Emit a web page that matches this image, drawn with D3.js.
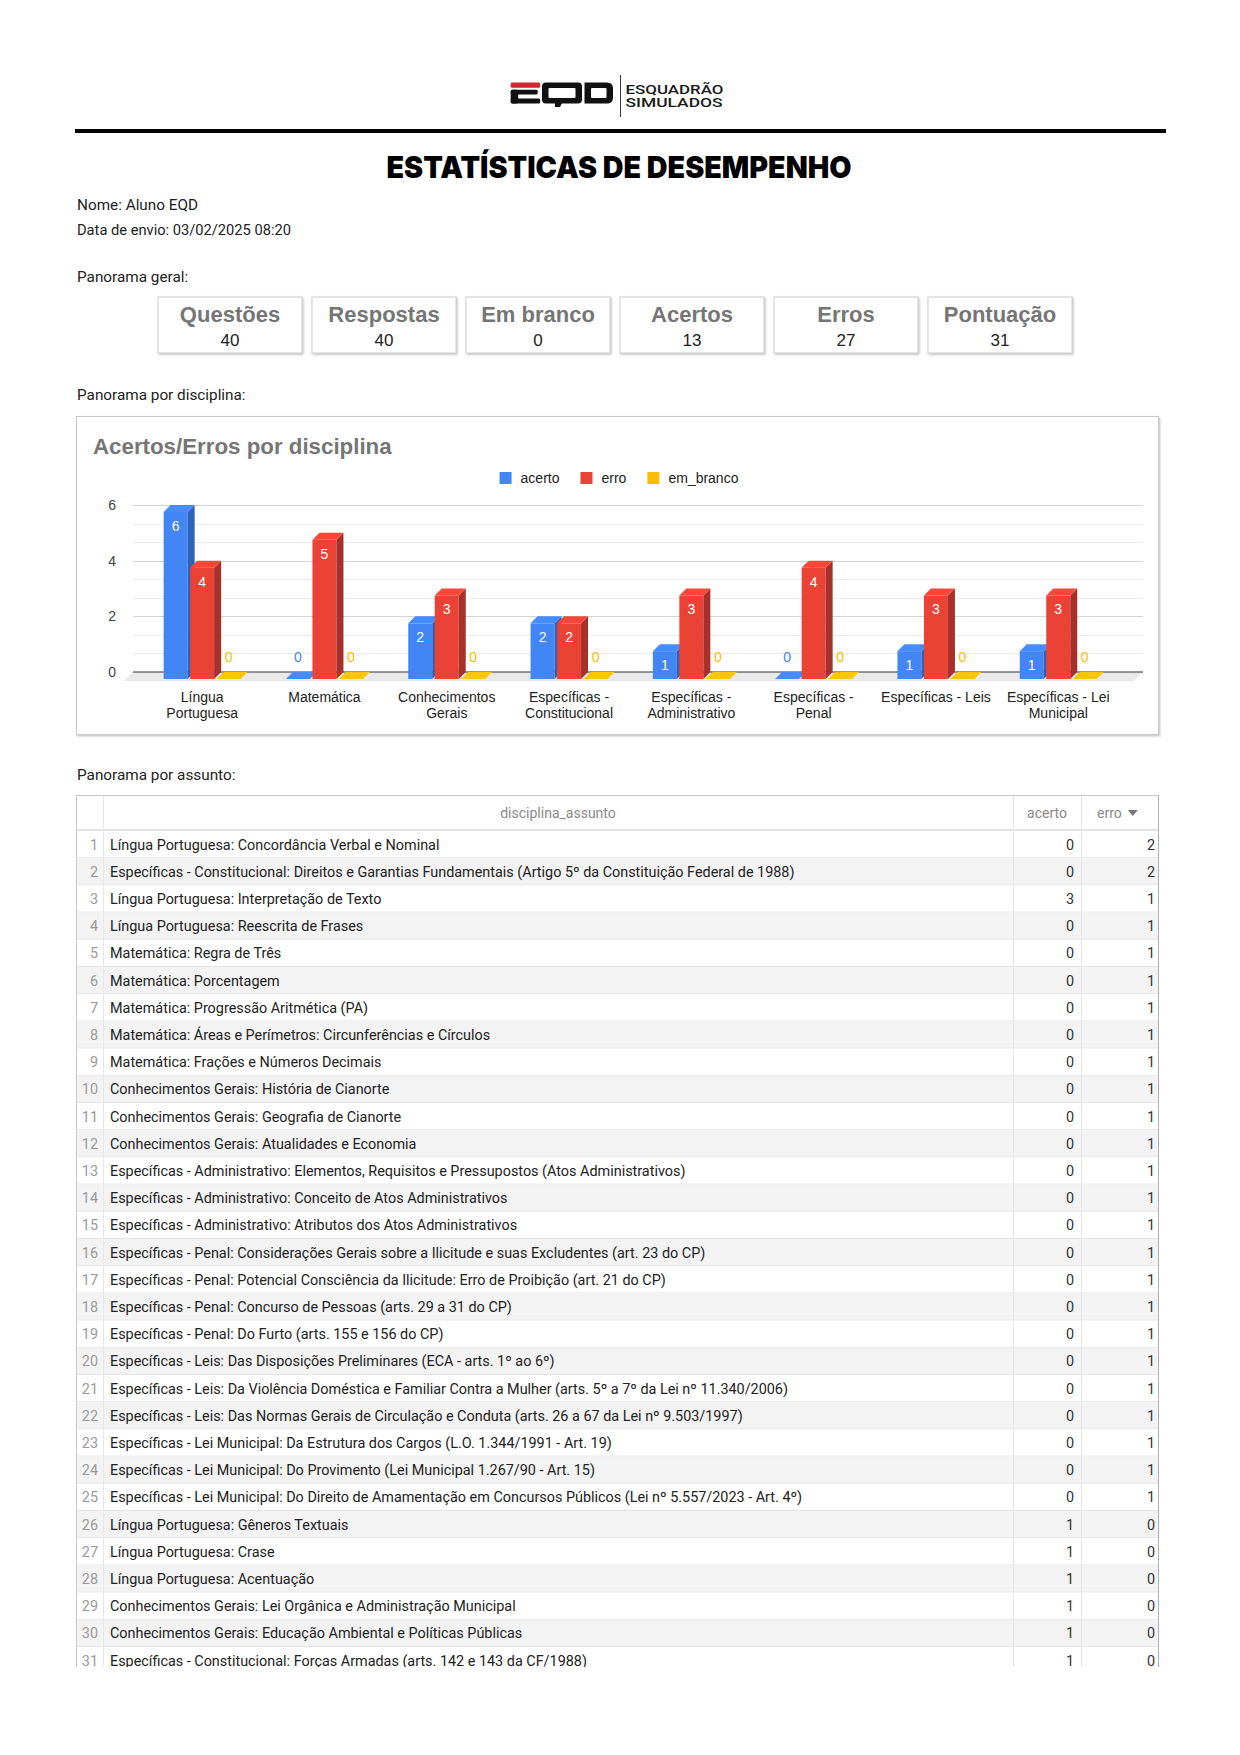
<!DOCTYPE html>
<html><head><meta charset="utf-8">
<script src="https://cdn.jsdelivr.net/npm/d3@7"></script>
<style>body{margin:0;background:#fff}svg{display:block}</style>
</head><body>
<svg id="page" width="1240" height="1755"></svg>
<script>
// ---------- DATA ----------
const categories = ["Língua Portuguesa","Matemática","Conhecimentos Gerais","Específicas - Constitucional","Específicas - Administrativo","Específicas - Penal","Específicas - Leis","Específicas - Lei Municipal"];
const tickLines = [["Língua","Portuguesa"],["Matemática"],["Conhecimentos","Gerais"],["Específicas -","Constitucional"],["Específicas -","Administrativo"],["Específicas -","Penal"],["Específicas - Leis"],["Específicas - Lei","Municipal"]];
const seriesNames = ["acerto","erro","em_branco"];
const acerto = [6,0,2,2,1,0,1,1];
const erro = [4,5,3,2,3,4,3,3];
const emBranco = [0,0,0,0,0,0,0,0];
const yTicks = [0,2,4,6];
const statLabels = ["Questões","Respostas","Em branco","Acertos","Erros","Pontuação"];
const statValues = [40,40,0,13,27,31];
const topicNames = [
 "Língua Portuguesa: Concordância Verbal e Nominal",
 "Específicas - Constitucional: Direitos e Garantias Fundamentais (Artigo 5º da Constituição Federal de 1988)",
 "Língua Portuguesa: Interpretação de Texto",
 "Língua Portuguesa: Reescrita de Frases",
 "Matemática: Regra de Três",
 "Matemática: Porcentagem",
 "Matemática: Progressão Aritmética (PA)",
 "Matemática: Áreas e Perímetros: Circunferências e Círculos",
 "Matemática: Frações e Números Decimais",
 "Conhecimentos Gerais: História de Cianorte",
 "Conhecimentos Gerais: Geografia de Cianorte",
 "Conhecimentos Gerais: Atualidades e Economia",
 "Específicas - Administrativo: Elementos, Requisitos e Pressupostos (Atos Administrativos)",
 "Específicas - Administrativo: Conceito de Atos Administrativos",
 "Específicas - Administrativo: Atributos dos Atos Administrativos",
 "Específicas - Penal: Considerações Gerais sobre a Ilicitude e suas Excludentes (art. 23 do CP)",
 "Específicas - Penal: Potencial Consciência da Ilicitude: Erro de Proibição (art. 21 do CP)",
 "Específicas - Penal: Concurso de Pessoas (arts. 29 a 31 do CP)",
 "Específicas - Penal: Do Furto (arts. 155 e 156 do CP)",
 "Específicas - Leis: Das Disposições Preliminares (ECA - arts. 1º ao 6º)",
 "Específicas - Leis: Da Violência Doméstica e Familiar Contra a Mulher (arts. 5º a 7º da Lei nº 11.340/2006)",
 "Específicas - Leis: Das Normas Gerais de Circulação e Conduta (arts. 26 a 67 da Lei nº 9.503/1997)",
 "Específicas - Lei Municipal: Da Estrutura dos Cargos (L.O. 1.344/1991 - Art. 19)",
 "Específicas - Lei Municipal: Do Provimento (Lei Municipal 1.267/90 - Art. 15)",
 "Específicas - Lei Municipal: Do Direito de Amamentação em Concursos Públicos (Lei nº 5.557/2023 - Art. 4º)",
 "Língua Portuguesa: Gêneros Textuais",
 "Língua Portuguesa: Crase",
 "Língua Portuguesa: Acentuação",
 "Conhecimentos Gerais: Lei Orgânica e Administração Municipal",
 "Conhecimentos Gerais: Educação Ambiental e Políticas Públicas",
 "Específicas - Constitucional: Forças Armadas (arts. 142 e 143 da CF/1988)"
];
const topicAcerto = [0,0,3,0,0,0,0,0,0,0,0,0,0,0,0,0,0,0,0,0,0,0,0,0,0,1,1,1,1,1,1];
const topicErro   = [2,2,1,1,1,1,1,1,1,1,1,1,1,1,1,1,1,1,1,1,1,1,1,1,1,0,0,0,0,0,0];

// ---------- PAGE ----------
const svg = d3.select("#page");
svg.append("rect").attr("width",1240).attr("height",1755).attr("fill","#fff");
const defs = svg.append("defs");
const sh = defs.append("filter").attr("id","sh").attr("x","-5%").attr("y","-5%").attr("width","110%").attr("height","120%");
sh.append("feDropShadow").attr("dx",1).attr("dy",1.2).attr("stdDeviation",0.8).attr("flood-color","#888").attr("flood-opacity",0.55);

// Logo
const logo = svg.append("g");
logo.append("rect").attr("x",510.7).attr("y",82.5).attr("width",29.5).attr("height",5.3).attr("rx",1.5).attr("fill","#d3262b");
logo.append("rect").attr("x",510.7).attr("y",89.8).attr("width",27).attr("height",4.7).attr("rx",1.5).attr("fill","#111");
logo.append("rect").attr("x",510.7).attr("y",89.8).attr("width",7.5).attr("height",13.7).attr("rx",2).attr("fill","#111");
logo.append("rect").attr("x",510.7).attr("y",98.5).attr("width",29.5).attr("height",5).attr("rx",1.5).attr("fill","#111");
logo.append("rect").attr("x",542).attr("y",82.5).attr("width",40).attr("height",21).attr("rx",4).attr("fill","#111");
logo.append("rect").attr("x",548.5).attr("y",88).attr("width",27).attr("height",10).attr("rx",1).attr("fill","#fff");
logo.append("path").attr("d","M555,101 H563 L560,107 H555 Z").attr("fill","#111");
logo.append("path").attr("d","M584.5,82.5 H607 Q613,82.5 613,88.5 V97.5 Q613,103.5 607,103.5 H584.5 Z").attr("fill","#111");
logo.append("rect").attr("x",591).attr("y",88).attr("width",15.5).attr("height",10).attr("rx",1).attr("fill","#fff");
logo.append("line").attr("x1",620.5).attr("x2",620.5).attr("y1",75).attr("y2",117).attr("stroke","#333").attr("stroke-width",1);
const lt = logo.append("text").attr("font-family","Roboto").attr("font-weight",500).attr("font-size",13.5).attr("fill","#1a1a1a");
lt.append("tspan").attr("x",625.5).attr("y",93.5).attr("textLength",98).attr("lengthAdjust","spacingAndGlyphs").text("ESQUADRÃO");
lt.append("tspan").attr("x",625.5).attr("y",107.3).attr("textLength",97).attr("lengthAdjust","spacingAndGlyphs").text("SIMULADOS");

// rule
svg.append("rect").attr("x",75).attr("y",129).attr("width",1091).attr("height",4).attr("fill","#000");

// title
svg.append("text").attr("x",619).attr("y",178).attr("text-anchor","middle").attr("font-family","Inter").attr("font-weight",900)
  .attr("font-size",30).attr("textLength",465).attr("lengthAdjust","spacingAndGlyphs").attr("fill","#000").text("ESTATÍSTICAS DE DESEMPENHO");

const bodyText = (x,y,t)=>svg.append("text").attr("x",x).attr("y",y).attr("font-family","Roboto").attr("font-size",15.3).attr("fill","#222").text(t);
bodyText(77,210,"Nome: Aluno EQD");
bodyText(77,234.5,"Data de envio: 03/02/2025 08:20").attr("textLength",214).attr("lengthAdjust","spacingAndGlyphs");
bodyText(77,281.5,"Panorama geral:");
bodyText(77,400,"Panorama por disciplina:");
bodyText(77,779.5,"Panorama por assunto:");

// stat boxes
const boxX = d3.scaleBand().domain(statLabels).range([158,1072]).paddingInner(10/154);
const boxes = svg.selectAll("g.stat").data(statLabels).join("g").attr("class","stat")
  .attr("transform",d=>`translate(${boxX(d)},297)`);
boxes.append("rect").attr("width",boxX.bandwidth()).attr("height",56).attr("fill","#fff").attr("stroke","#cfcfcf").attr("filter","url(#sh)");
boxes.append("text").attr("x",boxX.bandwidth()/2).attr("y",25).attr("text-anchor","middle").attr("font-family","Liberation Sans, Arial")
  .attr("font-weight",700).attr("font-size",22).attr("fill","#757575").text(d=>d);
boxes.append("text").attr("x",boxX.bandwidth()/2).attr("y",48.5).attr("text-anchor","middle").attr("font-family","Liberation Sans, Arial")
  .attr("font-size",17).attr("fill","#222").text((d,i)=>statValues[i]);

// ---------- CHART ----------
svg.append("rect").attr("x",76.5).attr("y",416.5).attr("width",1082).attr("height",318).attr("fill","#fff").attr("stroke","#c8c8c8").attr("filter","url(#sh)");
svg.append("text").attr("x",93).attr("y",454).attr("font-family","Liberation Sans, Arial").attr("font-weight",700).attr("font-size",22.3)
  .attr("fill","#757575").text("Acertos/Erros por disciplina");

const colors = ["#4285f4","#ea4335","#fbbc04"];
const sideColors = ["#2f62b8","#a8302a","#b58a04"];
const series = [acerto, erro, emBranco];
const fs = 14;

// legend
const leg = svg.append("g");
let lx = 0;
seriesNames.forEach((s,i)=>{
  const g = leg.append("g").attr("transform",`translate(${lx},0)`);
  g.append("rect").attr("x",0).attr("y",-6).attr("width",12).attr("height",12).attr("fill",colors[i]);
  const t = g.append("text").attr("x",21).attr("y",0).attr("dy","0.35em").attr("font-family","Liberation Sans, Arial").attr("font-size",fs).attr("fill","#222").text(s);
  lx += 21 + t.node().getComputedTextLength() + 21;
});
const legW = lx - 21;
leg.attr("transform",`translate(${619 - legW/2},478)`);

const x = d3.scaleBand().domain(categories).range([141,1119.4]);
const y = d3.scaleLinear().domain([0,6]).range([672,505]);
const px0 = 133, px1 = 1143, D = 7, bw = 24;
const offsets = d3.scaleLinear().domain([0,2]).range([-26.5,26.5]);

// floor
svg.append("path").attr("d",`M${px0},${y(0)} H${px1} L${px1-9},${y(0)+9} H${px0-9} Z`).attr("fill","#e9e9e9");
// grid
const minor = d3.range(0,6.01,2/3).filter(v=>Math.abs(v/2-Math.round(v/2))>0.01);
svg.append("g").selectAll("line").data(minor).join("line").attr("x1",px0).attr("x2",px1)
  .attr("y1",d=>Math.round(y(d))+0.5).attr("y2",d=>Math.round(y(d))+0.5).attr("stroke","#ececec");
svg.append("g").selectAll("line").data(yTicks.filter(v=>v>0)).join("line").attr("x1",px0).attr("x2",px1)
  .attr("y1",d=>Math.round(y(d))+0.5).attr("y2",d=>Math.round(y(d))+0.5).attr("stroke","#d2d2d2");
svg.append("line").attr("x1",px0).attr("x2",px1).attr("y1",y(0)).attr("y2",y(0)).attr("stroke","#333").attr("stroke-width",1.2);

// y axis
const yAxis = svg.append("g").attr("transform",`translate(${px0},0)`)
  .call(d3.axisLeft(y).tickValues(yTicks).tickSize(0).tickPadding(17).tickFormat(d3.format("d")));
yAxis.select(".domain").remove();
yAxis.selectAll("text").attr("font-family","Liberation Sans, Arial").attr("font-size",fs).attr("fill","#444");

// x axis
const xAxis = svg.append("g").attr("transform",`translate(0,${y(0)})`)
  .call(d3.axisBottom(x).tickSize(0).tickFormat(""));
xAxis.select(".domain").remove();
xAxis.selectAll(".tick").each(function(d,i){
  const t = d3.select(this).append("text").attr("text-anchor","middle").attr("font-family","Liberation Sans, Arial")
    .attr("font-size",fs).attr("fill","#222");
  tickLines[i].forEach((ln,k)=>t.append("tspan").attr("x",0).attr("y",29.5+k*16).text(ln));
});

// bars
const barsG = svg.append("g");
categories.forEach((c,ci)=>{
  series.forEach((vals,si)=>{
    const v = vals[ci];
    const cx = x(c) + x.bandwidth()/2 + offsets(si);
    const x0 = cx - bw/2;
    const yt = y(v), yb = y(0);
    const top = d3.color(colors[si]).brighter(0.15);
    if (v > 0) {
      barsG.append("rect").attr("x",x0).attr("y",yt+D).attr("width",bw).attr("height",yb-yt).attr("fill",colors[si]);
      barsG.append("path").attr("d",`M${x0+bw},${yt+D} L${x0+bw+D},${yt} V${yb} L${x0+bw},${yb+D} Z`).attr("fill",sideColors[si]);
      barsG.append("path").attr("d",`M${x0},${yt+D} L${x0+D},${yt} H${x0+bw+D} L${x0+bw},${yt+D} Z`).attr("fill",top);
      barsG.append("text").attr("x",cx).attr("y",yt+D+14).attr("dy","0.35em").attr("text-anchor","middle")
        .attr("font-family","Liberation Sans, Arial").attr("font-size",fs).attr("fill","#fff").text(v);
    } else {
      barsG.append("path").attr("d",`M${x0},${yb+D} L${x0+D},${yb} H${x0+bw+D} L${x0+bw},${yb+D} Z`).attr("fill",top);
      barsG.append("text").attr("x",cx).attr("y",yb-15).attr("dy","0.35em").attr("text-anchor","middle")
        .attr("font-family","Liberation Sans, Arial").attr("font-size",fs).attr("fill",colors[si]).text(v);
    }
  });
});

// ---------- TABLE ----------
const tTop = 795, tLeft = 76, tRight = 1159, tBottom = 1667, headH = 36, rowH = 27.2;
const cNum = 103, cMain = 1013, cAc = 1081;
defs.append("clipPath").attr("id","tclip").append("rect").attr("x",tLeft-1).attr("y",tTop-1).attr("width",tRight-tLeft+2).attr("height",tBottom-tTop+1);
const tab = svg.append("g").attr("clip-path","url(#tclip)");
const rowY = d3.scaleBand().domain(d3.range(topicNames.length)).range([tTop+headH, tTop+headH+rowH*topicNames.length]);
const rows = tab.selectAll("g.row").data(topicNames).join("g").attr("class","row").attr("transform",(d,i)=>`translate(0,${rowY(i)})`);
rows.append("rect").attr("x",tLeft).attr("width",tRight-tLeft).attr("height",rowH).attr("fill",(d,i)=>i%2===1?"#f3f3f3":"#fff");
rows.append("line").attr("x1",tLeft).attr("x2",tRight).attr("y1",rowH-0.5).attr("y2",rowH-0.5).attr("stroke","#e6e6e6");
rows.append("text").attr("x",98).attr("y",rowH/2).attr("dy","0.35em").attr("text-anchor","end").attr("font-family","Roboto").attr("font-size",14.4).attr("fill","#9a9a9a").text((d,i)=>i+1);
rows.append("text").attr("x",110).attr("y",rowH/2).attr("dy","0.35em").attr("font-family","Roboto").attr("font-size",14.4).attr("fill","#222").text(d=>d);
rows.append("text").attr("x",1074).attr("y",rowH/2).attr("dy","0.35em").attr("text-anchor","end").attr("font-family","Roboto").attr("font-size",14.4).attr("fill","#333").text((d,i)=>topicAcerto[i]);
rows.append("text").attr("x",1155).attr("y",rowH/2).attr("dy","0.35em").attr("text-anchor","end").attr("font-family","Roboto").attr("font-size",14.4).attr("fill","#333").text((d,i)=>topicErro[i]);
// header
tab.append("rect").attr("x",tLeft).attr("y",tTop).attr("width",tRight-tLeft).attr("height",headH).attr("fill","#fff");
tab.append("rect").attr("x",tLeft).attr("y",tTop+headH-2).attr("width",tRight-tLeft).attr("height",2).attr("fill","#e2e2e2");
[cNum,cMain,cAc].forEach(cx=>tab.append("line").attr("x1",cx+0.5).attr("x2",cx+0.5).attr("y1",tTop).attr("y2",tBottom).attr("stroke","#e6e6e6"));
tab.append("text").attr("x",(cNum+cMain)/2).attr("y",tTop+18).attr("dy","0.35em").attr("text-anchor","middle").attr("font-family","Roboto").attr("font-size",14).attr("fill","#8a8a8a").text("disciplina_assunto");
tab.append("text").attr("x",(cMain+cAc)/2).attr("y",tTop+18).attr("dy","0.35em").attr("text-anchor","middle").attr("font-family","Roboto").attr("font-size",14).attr("fill","#8a8a8a").text("acerto");
const et = tab.append("text").attr("x",1097).attr("y",tTop+18).attr("dy","0.35em").attr("font-family","Roboto").attr("font-size",14).attr("fill","#8a8a8a").text("erro");
const ex = 1097 + et.node().getComputedTextLength() + 6;
tab.append("path").attr("d",`M${ex},${tTop+15} h10 l-5,6 Z`).attr("fill","#777");
// borders
tab.append("line").attr("x1",tLeft).attr("x2",tRight).attr("y1",tTop+0.5).attr("y2",tTop+0.5).attr("stroke","#c8c8c8");
tab.append("line").attr("x1",tLeft+0.5).attr("x2",tLeft+0.5).attr("y1",tTop).attr("y2",tBottom).attr("stroke","#c8c8c8");
tab.append("line").attr("x1",tRight-0.5).attr("x2",tRight-0.5).attr("y1",tTop).attr("y2",tBottom).attr("stroke","#b0b0b0");
</script>
</body></html>
